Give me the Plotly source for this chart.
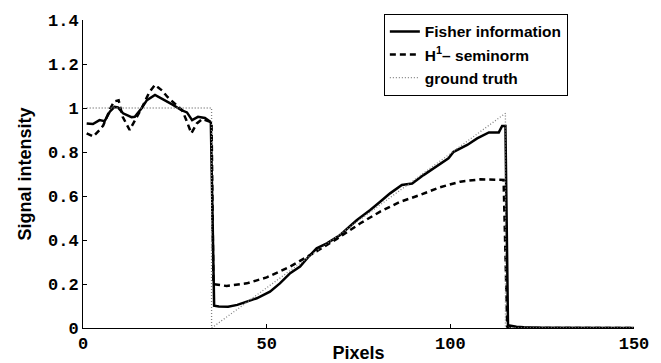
import plotly.graph_objects as go

# Fisher information reconstruction
fisher_x = [1, 2.7, 4.5, 5.9, 7.3, 8.6, 9.5, 10.9, 13.2, 14.1, 15.9, 17.4, 19.6, 22.3, 24.5,
            26.8, 28.3, 29.7, 31.3, 33.2, 34.8, 35.7, 37, 39.5, 42, 44.6, 47.3, 50.9, 53.6,
            56.4, 59.1, 61.4, 63.6, 66.4, 70, 74.5, 78.2, 80.9, 83.6, 86.8, 89.6, 92.7, 96.8,
            99.5, 100.9, 104.6, 107.3, 110.5, 113.2, 114.1, 115, 115.7, 118, 120, 125, 150]
fisher_y = [0.93, 0.927, 0.945, 0.94, 0.983, 1.005, 1.003, 0.976, 0.958, 0.96, 0.998, 1.036,
            1.059, 1.036, 1.014, 0.99, 0.98, 0.945, 0.96, 0.955, 0.936, 0.101, 0.098, 0.097,
            0.105, 0.12, 0.135, 0.165, 0.203, 0.249, 0.279, 0.324, 0.362, 0.385, 0.423, 0.49,
            0.536, 0.574, 0.612, 0.65, 0.657, 0.695, 0.741, 0.771, 0.801, 0.832, 0.862, 0.889,
            0.889, 0.918, 0.918, 0.012, 0.006, 0.003, 0.001, 0.0]

# H1 seminorm reconstruction
h1_x = [1, 2.8, 4.5, 5.5, 7.5, 8.5, 9.7, 10.8, 12.7, 14.8, 16, 18, 19.6, 21.5, 23, 25, 27,
        28, 29.5, 31, 32.5, 35, 35.5, 39.1, 44.6, 50, 56.4, 62.7, 69.1, 75.5, 80.9, 86.4,
        91.8, 97.2, 102.7, 108.2, 114.5, 115.5, 117, 150]
h1_y = [0.885, 0.87, 0.9, 0.92, 1.0, 1.03, 1.035, 0.96, 0.9, 0.96, 1.0, 1.07, 1.105, 1.08,
        1.05, 1.02, 0.99, 0.95, 0.885, 0.93, 0.95, 0.935, 0.199, 0.191, 0.203, 0.23, 0.279,
        0.34, 0.405, 0.476, 0.529, 0.574, 0.605, 0.64, 0.665, 0.676, 0.673, 0.0, 0.0, 0.0]

# Ground truth (piecewise: plateau, drop, ramp, drop)
gt_x = [1, 35, 35, 36, 115, 115, 150]
gt_y = [1.0, 1.0, 0.0, 0.012, 0.976, 0.0, 0.0]

x_ticks = [0, 50, 100, 150]
y_ticks = [0, 0.2, 0.4, 0.6, 0.8, 1.0, 1.2, 1.4]
y_labels = ["0", "0.2", "0.4", "0.6", "0.8", "1", "1.2", "1.4"]

fig = go.Figure()
fig.add_trace(go.Scatter(x=fisher_x, y=fisher_y, mode="lines", name="Fisher information",
                         line=dict(color="black", width=2.5)))
fig.add_trace(go.Scatter(x=h1_x, y=h1_y, mode="lines", name="H<sup>1</sup>\u2013 seminorm",
                         line=dict(color="black", width=2.5, dash="6px,4px")))
fig.add_trace(go.Scatter(x=gt_x, y=gt_y, mode="lines", name="ground truth",
                         line=dict(color="#808080", width=1.3, dash="1px,2px")))

tickfont = dict(family="Liberation Mono", size=17, color="black", weight="bold")
titlefont = dict(family="Liberation Sans", size=18, color="black", weight="bold")
fig.update_layout(
    width=661, height=363,
    margin=dict(l=83, r=27, t=20, b=35),
    plot_bgcolor="white", paper_bgcolor="white",
    showlegend=True,
    legend=dict(x=0.546, y=1.02, xanchor="left", yanchor="top",
                bgcolor="white", bordercolor="black", borderwidth=1,
                font=dict(family="Liberation Sans", size=15.5, color="black", weight="bold")),
    xaxis=dict(range=[0, 150], tickvals=x_ticks, ticktext=[str(v) for v in x_ticks],
               automargin=False,
               showgrid=False, zeroline=False, showline=True, linecolor="black", linewidth=1,
               ticks="inside", ticklen=4, tickcolor="black", tickfont=tickfont,
               title=dict(text="Pixels", font=titlefont, standoff=4)),
    yaxis=dict(range=[0, 1.4], tickvals=y_ticks, ticktext=y_labels,
               automargin=False,
               showgrid=False, zeroline=False, showline=True, linecolor="black", linewidth=1,
               ticks="inside", ticklen=4, tickcolor="black", tickfont=tickfont,
               title=dict(text="Signal intensity", font=titlefont, standoff=11)),
)
fig.write_html("out.html")
